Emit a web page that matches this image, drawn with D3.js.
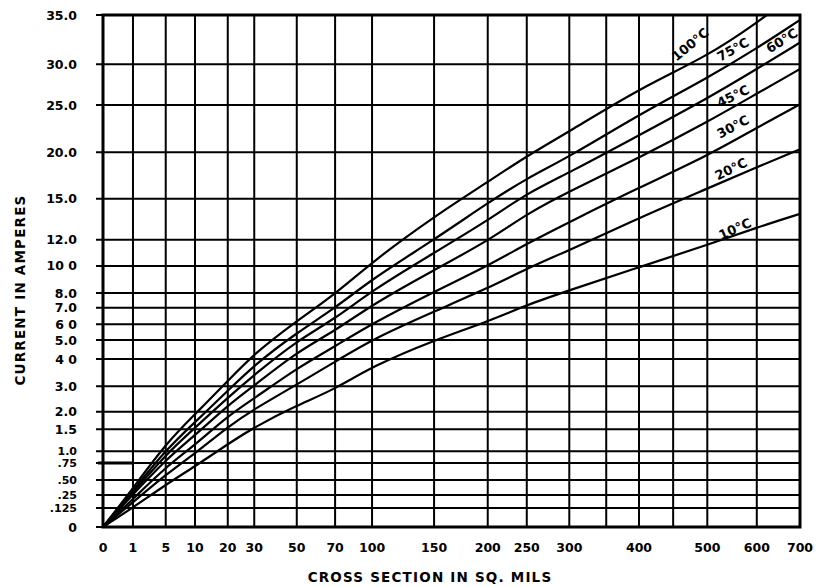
<!DOCTYPE html>
<html><head><meta charset="utf-8">
<script src="https://cdn.jsdelivr.net/npm/d3@7"></script>
<style>body{margin:0;background:#fff}svg{display:block}</style>
</head><body>
<svg id="c" width="817" height="587"></svg>
<script>
// ---- data ----
const xGrid = [0,1,5,10,20,30,50,70,100,150,200,250,300,350,400,450,500,600,700];
const xTickLabels = ["0","1","5","10","20","30","50","70","100","150","200","250","300","","400","","500","600","700"];
const yGrid = [0,0.125,0.25,0.5,0.75,1,1.5,2,3,4,5,6,7,8,10,12,15,20,25,30,35];
const yTickLabels = ["0",".125",".25",".50",".75","1.0","1.5","2.0","3.0","4 0","5.0","6 0","7.0","8.0","10 0","12.0","15.0","20.0","25.0","30.0","35.0"];
const crossSection = [0,1,5,10,20,30,50,70,100,150,200,250,300,400,500,600,700];
const rise10  = [0,0.13,0.42,0.70,1.16,1.56,2.25,2.88,3.73,5.0,6.16,7.2,8.2,9.9,11.6,12.9,13.9];
const rise20  = [0,0.18,0.58,0.95,1.57,2.11,3.06,3.90,5.05,6.78,8.35,9.8,11.2,13.6,16.1,18.4,20.3];
const rise30  = [0,0.21,0.69,1.14,1.88,2.52,3.66,4.67,6.04,8.1,10.0,11.7,13.3,16.2,19.6,22.6,25.1];
const rise45  = [0,0.26,0.82,1.36,2.25,3.02,4.37,5.58,7.22,9.7,11.9,13.9,15.8,19.4,23.2,26.4,29.4];
const rise60  = [0,0.29,0.93,1.54,2.55,3.42,4.96,6.33,8.19,11.0,13.4,15.6,17.8,21.8,25.8,29.4,32.2];
const rise75  = [0,0.32,1.03,1.70,2.82,3.78,5.47,6.98,9.04,12.0,14.7,17.2,19.5,24.0,28.3,31.6,34.5];
const rise100 = [0,0.36,1.17,1.93,3.19,4.29,6.21,7.92,10.3,13.7,16.8,19.6,22.2,27.0,30.8,34.2,37.5];
const seriesNames = ["10°C","20°C","30°C","45°C","60°C","75°C","100°C"];
const seriesValues = [rise10,rise20,rise30,rise45,rise60,rise75,rise100];

// ---- layout ----
const L = 103, R = 800, T = 15, B = 527;
const W = R - L, H = B - T;
// the chart's hand-ruled grid spacing (fraction of plot size per grid value)
const xFrac = [0,.043,.090,.132,.179,.217,.278,.333,.386,.475,.552,.608,.669,.722,.769,.818,.867,.938,1];
const yFrac = [0,.037,.0625,.092,.125,.148,.191,.225,.275,.328,.365,.396,.428,.457,.510,.561,.641,.732,.824,.904,1];

const x = d3.scaleLinear().domain(xGrid).range(xFrac.map(f => L + f*W));
const y = d3.scaleLinear().domain(yGrid).range(yFrac.map(f => B - f*H));

const svg = d3.select("#c");
const font = "'DejaVu Sans', sans-serif";

svg.append("defs").append("clipPath").attr("id","plot")
  .append("rect").attr("x",L).attr("y",T).attr("width",W).attr("height",H);

// horizontal grid (extends left as ticks)
svg.append("g").selectAll("line").data(yGrid).join("line")
  .attr("x1", L - 7).attr("x2", R)
  .attr("y1", d => y(d)).attr("y2", d => y(d))
  .attr("stroke","#000").attr("stroke-width", 2);
// thick .75 segment in first column
svg.append("line").attr("x1", L - 5).attr("x2", x(1)).attr("y1", y(0.75)).attr("y2", y(0.75))
  .attr("stroke","#000").attr("stroke-width", 3);

// vertical grid
svg.append("g").selectAll("line").data(xGrid).join("line")
  .attr("x1", d => x(d)).attr("x2", d => x(d))
  .attr("y1", T).attr("y2", B)
  .attr("stroke","#000").attr("stroke-width", 2);

// frame
svg.append("rect").attr("x",L).attr("y",T).attr("width",W).attr("height",H)
  .attr("fill","none").attr("stroke","#000").attr("stroke-width",3);

// curves
const line = d3.line().x(d => x(d[0])).y(d => y(d[1])).curve(d3.curveBasis);
svg.append("g").attr("clip-path","url(#plot)").selectAll("path").data(seriesValues).join("path")
  .attr("d", vals => line(crossSection.map((a,i) => [a, vals[i]])))
  .attr("fill","none").attr("stroke","#000").attr("stroke-width",2.2);

// curve labels (anchor given in data units: cross section, amperes, angle)
const labelAnchors = [[556,12.8,-24],[548,18.2,-26],[552,22.7,-28],[552,26.1,-26],[658,32.4,-32],[552,31.5,-29],[475,32.0,-40]];
svg.append("g").selectAll("text").data(seriesNames).join("text")
  .attr("transform", (d,i) => `translate(${x(labelAnchors[i][0])},${y(labelAnchors[i][1])}) rotate(${labelAnchors[i][2]})`)
  .attr("text-anchor","middle").attr("dy","0.35em")
  .attr("font-family", font).attr("font-size", 13).attr("font-weight","bold")
  .text(d => d);

// y tick labels
svg.append("g").selectAll("text").data(yGrid).join("text")
  .attr("x", 77).attr("y", d => y(d)).attr("dy","0.36em")
  .attr("text-anchor","end")
  .attr("font-family", font).attr("font-size", d => (d > 0 && d <= 1) ? 11 : 12.5).attr("font-weight","bold")
  .text((d,i) => yTickLabels[i]);

// x tick labels
svg.append("g").selectAll("text").data(xGrid).join("text")
  .attr("x", d => x(d)).attr("y", 552)
  .attr("text-anchor","middle")
  .attr("font-family", font).attr("font-size", 12.5).attr("font-weight","bold")
  .text((d,i) => xTickLabels[i]);

// axis titles
svg.append("text").attr("x", 430).attr("y", 582).attr("text-anchor","middle")
  .attr("font-family", font).attr("font-size", 13.5).attr("font-weight","bold")
  .attr("letter-spacing", 1.2)
  .text("CROSS SECTION IN SQ. MILS");
svg.append("text").attr("transform","translate(25,290) rotate(-90)").attr("text-anchor","middle")
  .attr("font-family", font).attr("font-size", 13.5).attr("font-weight","bold")
  .attr("letter-spacing", 1.2)
  .text("CURRENT IN AMPERES");
</script>
</body></html>
